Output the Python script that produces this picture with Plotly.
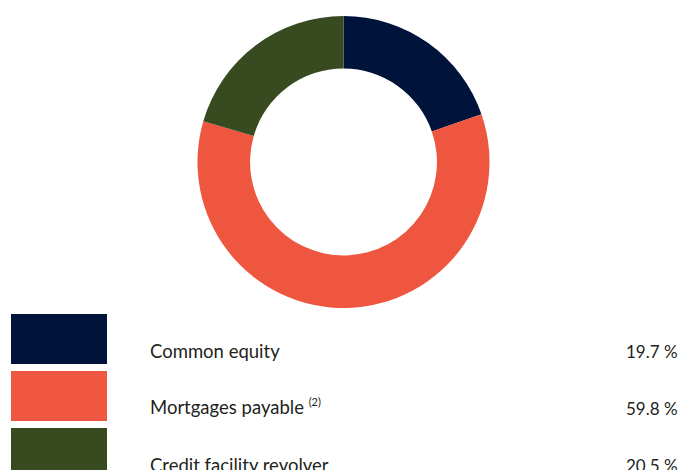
import plotly.graph_objects as go

# Capital structure breakdown
categories = ["Common equity", "Mortgages payable", "Credit facility revolver"]
label_notes = ["", "(2)", ""]
shares = [19.7, 59.8, 20.5]
colors = ["#00133A", "#EE5640", "#374A20"]

W, H = 683, 470
FONT = "Lato"
TEXT_COLOR = "#231F20"


def px_x(x):
    return x / W


def px_y(y):
    return (H - y) / H


# Donut geometry (pixels)
cx, cy, r_out = 343.5, 162.0, 146.0

fig = go.Figure()
fig.add_trace(
    go.Pie(
        labels=categories,
        values=shares,
        marker=dict(colors=colors, line=dict(width=0)),
        hole=0.64,
        sort=False,
        direction="clockwise",
        rotation=0,
        textinfo="none",
        hoverinfo="label+percent",
        showlegend=False,
        domain=dict(
            x=[px_x(cx - r_out), px_x(cx + r_out)],
            y=[px_y(cy + r_out), px_y(cy - r_out)],
        ),
    )
)

# Legend rows: swatch, label, percentage
row_top0, row_step, sw_h = 314, 57, 50
sw_x0, sw_x1 = 11, 107
label_x, value_x = 148, 680
fs = 18.5

shapes = []
annotations = []
for i, (name, note, val, col) in enumerate(zip(categories, label_notes, shares, colors)):
    top = row_top0 + i * row_step
    shapes.append(
        dict(
            type="rect", xref="paper", yref="paper",
            x0=px_x(sw_x0), x1=px_x(sw_x1),
            y0=px_y(top + sw_h), y1=px_y(top),
            fillcolor=col, line=dict(width=0), layer="above",
        )
    )
    baseline = top + 44
    mid = baseline - 0.36 * fs
    if note:
        text = f"{name} <sup><span style='font-size:11px'>{note}</span></sup>"
        mid -= 2
    else:
        text = name
    annotations.append(
        dict(
            x=px_x(label_x), y=px_y(mid), xref="paper", yref="paper",
            text=text, showarrow=False, xanchor="left", yanchor="middle",
            font=dict(family=FONT, size=fs, color=TEXT_COLOR),
        )
    )
    annotations.append(
        dict(
            x=px_x(value_x), y=px_y(baseline - 0.36 * fs), xref="paper", yref="paper",
            text=f"{val:.1f} %", showarrow=False, xanchor="right", yanchor="middle",
            font=dict(family=FONT, size=fs - 1.5, color=TEXT_COLOR),
        )
    )

fig.update_layout(
    width=W, height=H,
    margin=dict(l=0, r=0, t=0, b=0),
    paper_bgcolor="white",
    plot_bgcolor="white",
    shapes=shapes,
    annotations=annotations,
    showlegend=False,
)

fig.write_html("out.html", config={"displayModeBar": False})
